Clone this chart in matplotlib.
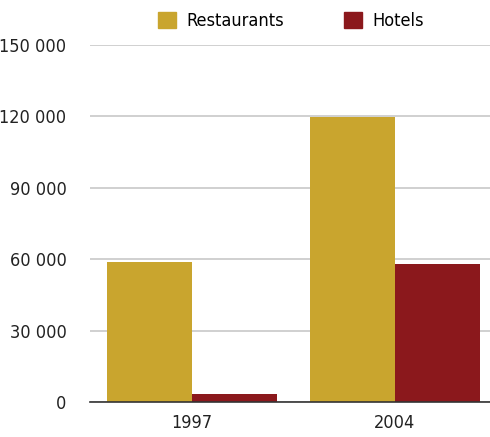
import matplotlib
matplotlib.use("Agg")
import matplotlib.pyplot as plt
import numpy as np
from matplotlib.patches import Patch

years = ["1997", "2004"]
restaurants = [59000, 119700]
hotels = [3500, 58000]
yticks = [0, 30000, 60000, 90000, 120000, 150000]
ytick_labels = ["0", "30 000", "60 000", "90 000", "120 000", "150 000"]

plt.rcParams["font.family"] = ["DejaVu Sans"]
plt.rcParams["font.stretch"] = "condensed"

W, H = 490, 437
fig = plt.figure(figsize=(W/100, H/100), dpi=100)
ax = fig.add_axes([90/W, (H-402)/H, 400/W, (402-45)/H])

gold = "#C9A52E"
red = "#8B181C"
x = np.arange(len(years))
bw = 0.42
ax.bar(x - bw/2, restaurants, bw, color=gold, zorder=3, label="Restaurants")
ax.bar(x + bw/2, hotels, bw, color=red, zorder=3, label="Hotels")

ax.set_xlim(-0.502, 1.468)
ax.set_ylim(0, 150000)
ax.set_yticks(yticks)
ax.set_yticklabels(ytick_labels)
ax.set_xticks(x)
ax.set_xticklabels(years)
ax.yaxis.grid(True, color="#C8C8C8", linewidth=1.2, zorder=0)
for s in ["top", "right", "left"]:
    ax.spines[s].set_visible(False)
ax.spines["bottom"].set_color("#333333")
ax.spines["bottom"].set_linewidth(1.2)
ax.spines["bottom"].set_zorder(4)
ax.tick_params(axis="y", length=0, pad=17, labelsize=13, labelcolor="#222222")
ax.tick_params(axis="x", length=0, pad=9, labelsize=13, labelcolor="#222222")

handles = [Patch(color=gold, label="Restaurants"), Patch(color=red, label="Hotels")]
fig.legend(handles=handles, loc="center", bbox_to_anchor=(291/W, (H-21)/H), ncol=2,
           frameon=False, fontsize=13, handlelength=1.0, handleheight=1.0,
           columnspacing=3.3, handletextpad=0.6)

fig.savefig("out.png", dpi=100)
